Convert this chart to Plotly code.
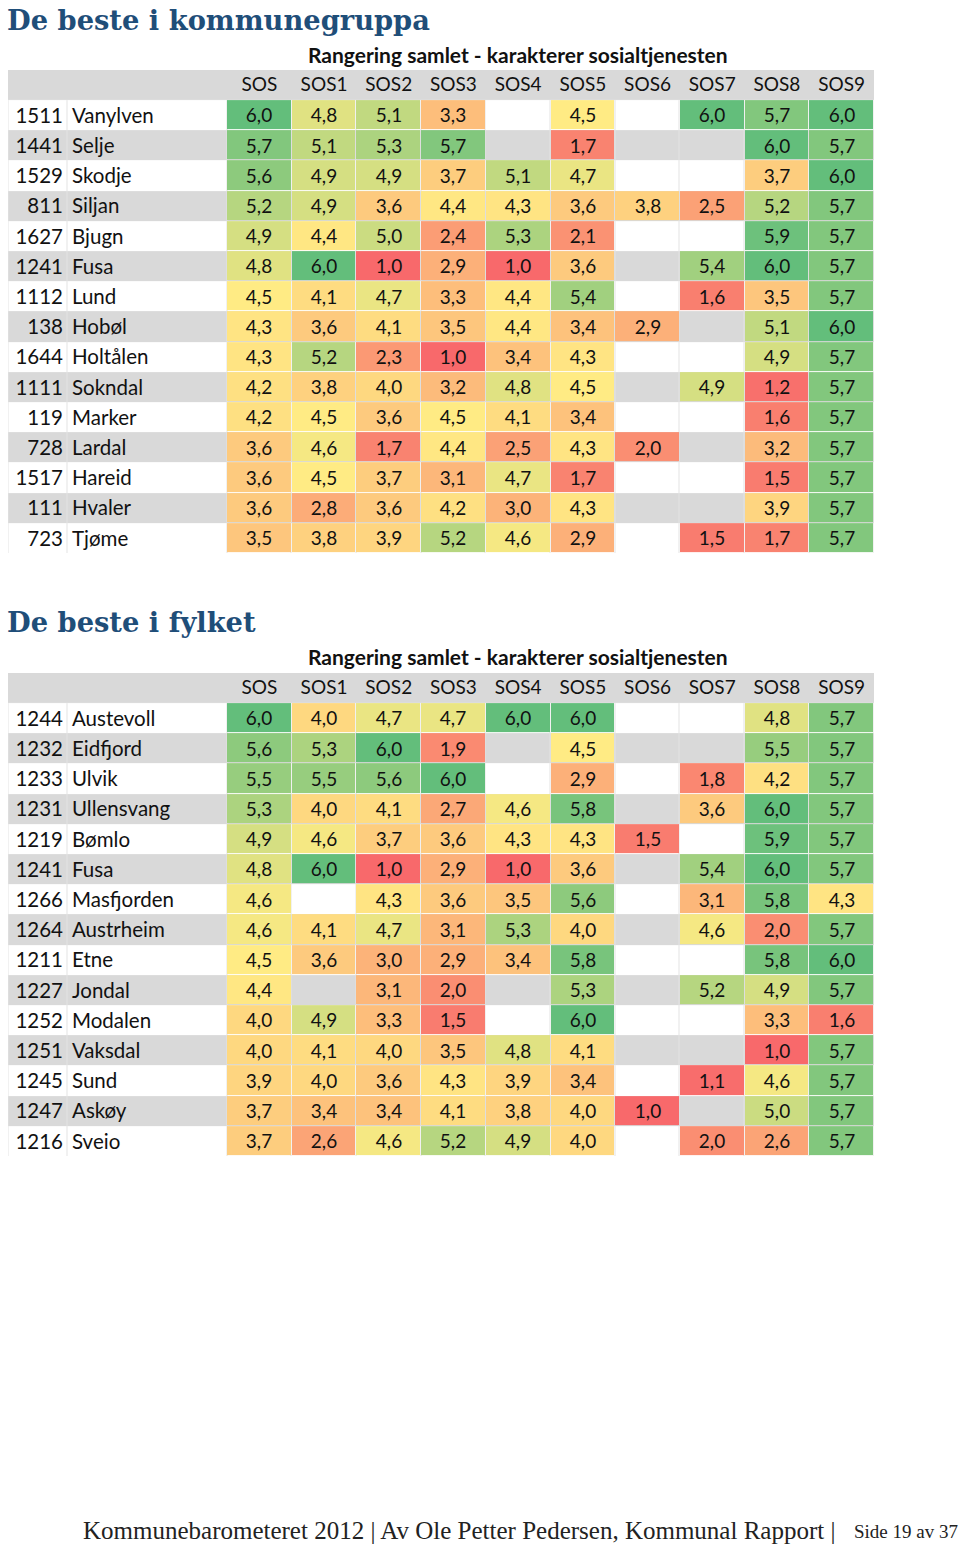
import plotly.graph_objects as go

# ---------------- data ----------------
COLUMNS = ["SOS", "SOS1", "SOS2", "SOS3", "SOS4", "SOS5", "SOS6", "SOS7", "SOS8", "SOS9"]

KG_CODES = ["1511", "1441", "1529", "811", "1627", "1241", "1112", "138", "1644", "1111",
            "119", "728", "1517", "111", "723"]
KG_NAMES = ["Vanylven", "Selje", "Skodje", "Siljan", "Bjugn", "Fusa", "Lund", "Hobøl", "Holtålen",
            "Sokndal", "Marker", "Lardal", "Hareid", "Hvaler", "Tjøme"]
KG_VALUES = [
    [6.0, 4.8, 5.1, 3.3, None, 4.5, None, 6.0, 5.7, 6.0],
    [5.7, 5.1, 5.3, 5.7, None, 1.7, None, None, 6.0, 5.7],
    [5.6, 4.9, 4.9, 3.7, 5.1, 4.7, None, None, 3.7, 6.0],
    [5.2, 4.9, 3.6, 4.4, 4.3, 3.6, 3.8, 2.5, 5.2, 5.7],
    [4.9, 4.4, 5.0, 2.4, 5.3, 2.1, None, None, 5.9, 5.7],
    [4.8, 6.0, 1.0, 2.9, 1.0, 3.6, None, 5.4, 6.0, 5.7],
    [4.5, 4.1, 4.7, 3.3, 4.4, 5.4, None, 1.6, 3.5, 5.7],
    [4.3, 3.6, 4.1, 3.5, 4.4, 3.4, 2.9, None, 5.1, 6.0],
    [4.3, 5.2, 2.3, 1.0, 3.4, 4.3, None, None, 4.9, 5.7],
    [4.2, 3.8, 4.0, 3.2, 4.8, 4.5, None, 4.9, 1.2, 5.7],
    [4.2, 4.5, 3.6, 4.5, 4.1, 3.4, None, None, 1.6, 5.7],
    [3.6, 4.6, 1.7, 4.4, 2.5, 4.3, 2.0, None, 3.2, 5.7],
    [3.6, 4.5, 3.7, 3.1, 4.7, 1.7, None, None, 1.5, 5.7],
    [3.6, 2.8, 3.6, 4.2, 3.0, 4.3, None, None, 3.9, 5.7],
    [3.5, 3.8, 3.9, 5.2, 4.6, 2.9, None, 1.5, 1.7, 5.7],
]

FY_CODES = ["1244", "1232", "1233", "1231", "1219", "1241", "1266", "1264", "1211", "1227",
            "1252", "1251", "1245", "1247", "1216"]
FY_NAMES = ["Austevoll", "Eidfjord", "Ulvik", "Ullensvang", "Bømlo", "Fusa", "Masfjorden",
            "Austrheim", "Etne", "Jondal", "Modalen", "Vaksdal", "Sund", "Askøy", "Sveio"]
FY_VALUES = [
    [6.0, 4.0, 4.7, 4.7, 6.0, 6.0, None, None, 4.8, 5.7],
    [5.6, 5.3, 6.0, 1.9, None, 4.5, None, None, 5.5, 5.7],
    [5.5, 5.5, 5.6, 6.0, None, 2.9, None, 1.8, 4.2, 5.7],
    [5.3, 4.0, 4.1, 2.7, 4.6, 5.8, None, 3.6, 6.0, 5.7],
    [4.9, 4.6, 3.7, 3.6, 4.3, 4.3, 1.5, None, 5.9, 5.7],
    [4.8, 6.0, 1.0, 2.9, 1.0, 3.6, None, 5.4, 6.0, 5.7],
    [4.6, None, 4.3, 3.6, 3.5, 5.6, None, 3.1, 5.8, 4.3],
    [4.6, 4.1, 4.7, 3.1, 5.3, 4.0, None, 4.6, 2.0, 5.7],
    [4.5, 3.6, 3.0, 2.9, 3.4, 5.8, None, None, 5.8, 6.0],
    [4.4, None, 3.1, 2.0, None, 5.3, None, 5.2, 4.9, 5.7],
    [4.0, 4.9, 3.3, 1.5, None, 6.0, None, None, 3.3, 1.6],
    [4.0, 4.1, 4.0, 3.5, 4.8, 4.1, None, None, 1.0, 5.7],
    [3.9, 4.0, 3.6, 4.3, 3.9, 3.4, None, 1.1, 4.6, 5.7],
    [3.7, 3.4, 3.4, 4.1, 3.8, 4.0, 1.0, None, 5.0, 5.7],
    [3.7, 2.6, 4.6, 5.2, 4.9, 4.0, None, 2.0, 2.6, 5.7],
]

TITLES = ["De beste i kommunegruppa", "De beste i fylket"]
SUBTITLE = "Rangering samlet - karakterer sosialtjenesten"
FOOTER_MAIN = "Kommunebarometeret 2012 | Av Ole Petter Pedersen, Kommunal Rapport |"
FOOTER_PAGE = "Side 19 av 37"

# ---------------- layout constants ----------------
W, H = 960, 1545
TABLE_L, CODE_R, NAME_R, TABLE_R = 8, 67, 227, 874
ROW_PITCH = 30.2
NCOL = len(COLUMNS)
COL_W = (TABLE_R - NAME_R) / NCOL
DATA_EDGES = [NAME_R + COL_W * k for k in range(NCOL + 1)]
DATA_CENTERS = [(DATA_EDGES[k] + DATA_EDGES[k + 1]) / 2 for k in range(NCOL)]
LABEL_DY = 0.08   # small vertical nudge (in rows) for scatter text labels
HEADER_DY = 0.05

TABLE_POS = [  # pixel tops of header row, title y, subtitle y
    dict(top=69.9, title_y=20, sub_y=54),
    dict(top=672.9, title_y=622, sub_y=657),
]

BODY_FONT = "Lato"
TEXT_SIZE = 19
LABEL_SIZE = 20.5
TITLE_COLOR = "#1F4E79"
GRAY = "#D9D9D9"
GRID = "#E4E4E4"
COLORSCALE = [[0.0, "#F8696B"], [0.7, "#FFEB84"], [1.0, "#63BE7B"]]


def fmt(v):
    return "" if v is None else f"{v:.1f}".replace(".", ",")


fig = go.Figure()
tables = [(KG_CODES, KG_NAMES, KG_VALUES), (FY_CODES, FY_NAMES, FY_VALUES)]
annotations = []

for i, (codes, names, values) in enumerate(tables):
    n = len(codes)
    pos = TABLE_POS[i]
    xa = "x" if i == 0 else "x2"
    ya = "y" if i == 0 else "y2"
    top = pos["top"]
    bottom = top + (n + 1) * ROW_PITCH
    dom = [1 - bottom / H, 1 - top / H]
    fig.update_layout(**{
        ("xaxis" if i == 0 else "xaxis2"): dict(domain=[0, 1], range=[0, W], visible=False,
                                                fixedrange=True, anchor=ya),
        ("yaxis" if i == 0 else "yaxis2"): dict(domain=dom, range=[n - 0.5, -1.5], visible=False,
                                                fixedrange=True, anchor=xa),
    })
    row_edges = [r - 0.5 for r in range(n + 1)]
    rows = list(range(n))
    # grid background
    fig.add_trace(go.Heatmap(z=[[0]], x=[TABLE_L, TABLE_R], y=[-0.5, n - 0.5 + 0.03],
                             colorscale=[[0, GRID], [1, GRID]], showscale=False,
                             hoverinfo="skip", xaxis=xa, yaxis=ya))
    # row stripes
    stripe_x = [TABLE_L + 0.5, CODE_R, NAME_R] + DATA_EDGES[1:]
    stripe_z = [[r % 2] * (len(stripe_x) - 1) for r in rows]
    fig.add_trace(go.Heatmap(z=stripe_z, x=stripe_x, y=row_edges,
                             colorscale=[[0, "#FFFFFF"], [1, GRAY]], zmin=0, zmax=1,
                             xgap=1, ygap=0, showscale=False, hoverinfo="skip",
                             xaxis=xa, yaxis=ya))
    # header band
    fig.add_trace(go.Heatmap(z=[[1]], x=[TABLE_L, TABLE_R], y=[-1.5, -0.5],
                             colorscale=[[0, GRAY], [1, GRAY]], showscale=False,
                             hoverinfo="skip", xaxis=xa, yaxis=ya))
    # data cells
    fig.add_trace(go.Heatmap(z=values, x=DATA_EDGES, y=row_edges,
                             text=[[fmt(v) for v in row] for row in values],
                             texttemplate="%{text}",
                             textfont=dict(family=BODY_FONT, size=TEXT_SIZE, color="#111111"),
                             colorscale=COLORSCALE, zmin=1, zmax=6, xgap=1, ygap=1,
                             showscale=False, hoverinfo="skip", xaxis=xa, yaxis=ya))
    # column headers
    fig.add_trace(go.Scatter(x=DATA_CENTERS, y=[-1 + HEADER_DY] * NCOL, text=COLUMNS,
                             mode="text", textposition="middle center",
                             textfont=dict(family=BODY_FONT, size=TEXT_SIZE, color="#111111"),
                             hoverinfo="skip", xaxis=xa, yaxis=ya))
    # codes
    fig.add_trace(go.Scatter(x=[CODE_R - 4] * n, y=[r + LABEL_DY for r in rows], text=codes,
                             mode="text", textposition="middle left",
                             textfont=dict(family=BODY_FONT, size=LABEL_SIZE, color="#111111"),
                             hoverinfo="skip", xaxis=xa, yaxis=ya))
    # names
    fig.add_trace(go.Scatter(x=[CODE_R + 5] * n, y=[r + LABEL_DY for r in rows], text=names,
                             mode="text", textposition="middle right",
                             textfont=dict(family=BODY_FONT, size=LABEL_SIZE, color="#111111"),
                             hoverinfo="skip", xaxis=xa, yaxis=ya))

    annotations.append(dict(text=f"<b>{TITLES[i]}</b>", xref="paper", yref="paper",
                            x=(TABLE_L - 3) / W, y=1 - pos["title_y"] / H, xanchor="left",
                            yanchor="middle", showarrow=False,
                            font=dict(family="DejaVu Serif", size=27.3, color=TITLE_COLOR)))
    annotations.append(dict(text=f"<b>{SUBTITLE}</b>", xref="paper", yref="paper",
                            x=518 / W, y=1 - pos["sub_y"] / H, xanchor="center",
                            yanchor="middle", showarrow=False,
                            font=dict(family=BODY_FONT, size=21, color="#111111")))

annotations.append(dict(text=FOOTER_MAIN, xref="paper", yref="paper", x=81 / W,
                        y=1 - 1530 / H, xanchor="left", yanchor="middle", showarrow=False,
                        font=dict(family="Liberation Serif", size=25, color="#222222")))
annotations.append(dict(text=FOOTER_PAGE, xref="paper", yref="paper", x=960 / W,
                        y=1 - 1531 / H, xanchor="right", yanchor="middle", showarrow=False,
                        font=dict(family="Liberation Serif", size=19, color="#222222")))

fig.update_layout(width=W, height=H, margin=dict(l=0, r=0, t=0, b=0),
                  paper_bgcolor="white", plot_bgcolor="rgba(0,0,0,0)",
                  showlegend=False, annotations=annotations, separators=", ")

fig.write_html("out.html", config={"displayModeBar": False, "staticPlot": True},
               post_script="document.body.style.margin='0';document.body.style.overflow='hidden';")
